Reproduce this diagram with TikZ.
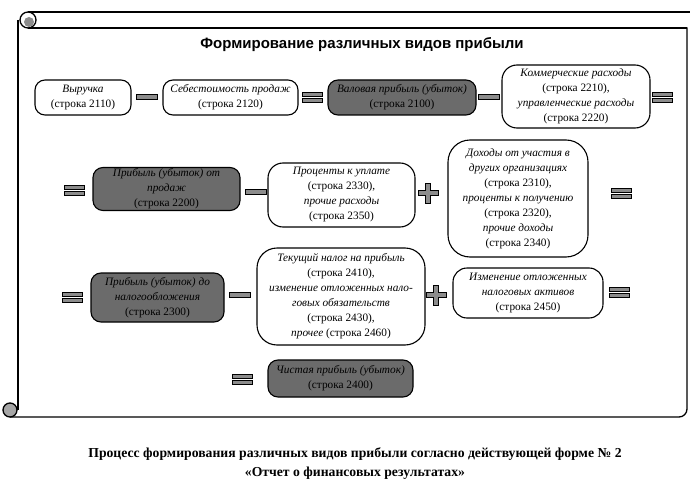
\documentclass[tikz,border=0pt]{standalone}
\usepackage{fontspec}
\setmainfont{Liberation Serif}
\newfontfamily\headfont{Liberation Sans}
\usetikzlibrary{calc}
\tikzset{
  item/.style   ={draw,line width=1.1pt,rounded corners=10pt,fill=white,align=center,
                  inner sep=1pt,font=\fontsize{11.3}{15}\selectfont},
  result/.style ={item,fill=black!58,draw=black},
  minusop/.style={draw,line width=.7pt,fill=black!45,minimum width=21pt,minimum height=5.5pt,inner sep=0pt},
  equalop/.style={minimum width=23pt,minimum height=13pt,inner sep=0pt,
    path picture={
      \draw[line width=.7pt,fill=black!45] ([shift={(-10pt,1pt)}]path picture bounding box.center) rectangle ++(20pt,4pt);
      \draw[line width=.7pt,fill=black!45] ([shift={(-10pt,-5pt)}]path picture bounding box.center) rectangle ++(20pt,4pt);}},
  plusop/.style ={minimum size=24pt,inner sep=0pt,
    path picture={
      \draw[line width=.7pt,fill=black!45,shift={(path picture bounding box.center)}]
        (-2.5pt,10pt) -- (2.5pt,10pt) -- (2.5pt,2.5pt) -- (10pt,2.5pt) -- (10pt,-2.5pt) -- (2.5pt,-2.5pt)
        -- (2.5pt,-10pt) -- (-2.5pt,-10pt) -- (-2.5pt,-2.5pt) -- (-10pt,-2.5pt) -- (-10pt,2.5pt) -- (-2.5pt,2.5pt) -- cycle;}},
  scroll/.style ={line width=1.3pt},
}

\begin{document}
\begin{tikzpicture}[x=1pt,y=-1pt]
  \useasboundingbox (0,0) rectangle (690,484);
  % scroll frame
  \draw[scroll] (28,12) -- (690,12);
  \draw[scroll] (28,28) -- (687,28);
  \draw[scroll,rounded corners=8pt] (687,27.4) -- (687,417) -- (10,417);
  \draw[scroll] (18,20) -- (18,410);
  \draw[scroll,fill=white] (28,20) circle[radius=8pt];
  \fill[black!45] (29,22) circle[radius=5pt];
  \draw[scroll,fill=black!35] (10,410) circle[radius=7pt];

  \node[font=\headfont\bfseries\fontsize{15}{18}\selectfont] (title) at (362,45) {Формирование различных видов прибыли};

  % row 1
  \node[item,minimum width=96pt,minimum height=35pt] (vyr) at (83,97.5) {\textit{Выручка}\\(строка 2110)};
  \node[minusop] (m1) at (147,97) {};
  \node[item,minimum width=135pt,minimum height=35pt] (seb) at (230.5,97.5) {\textit{Себестоимость продаж}\\(строка 2120)};
  \node[equalop] (e1) at (312,97) {};
  \node[result,minimum width=148pt,minimum height=35pt] (val) at (402,97.5) {\textit{Валовая прибыль (убыток)}\\(строка 2100)};
  \node[minusop] (m2) at (489,97) {};
  \node[item,rounded corners=15pt,minimum width=148pt,minimum height=63pt] (kom) at (576,96.5)
    {\textit{Коммерческие расходы}\\(строка 2210),\\\textit{управленческие расходы}\\(строка 2220)};
  \node[equalop] (e2) at (662,97) {};

  % row 2
  \node[equalop] (e3) at (74,190) {};
  \node[result,minimum width=147pt,minimum height=43pt] (prod) at (166.5,189)
    {\textit{Прибыль (убыток) от}\\\textit{продаж}\\(строка 2200)};
  \node[minusop] (m3) at (256,192) {};
  \node[item,rounded corners=15pt,minimum width=147pt,minimum height=64pt] (proc) at (341.5,195)
    {\textit{Проценты к уплате}\\(строка 2330),\\\textit{прочие расходы}\\(строка 2350)};
  \node[plusop] (p1) at (428,193) {};
  \node[item,rounded corners=22pt,minimum width=140pt,minimum height=117pt] (doh) at (518,198.5)
    {\textit{Доходы от участия в}\\\textit{других организациях}\\(строка 2310),\\\textit{проценты к получению}\\(строка 2320),\\\textit{прочие доходы}\\(строка 2340)};
  \node[equalop] (e4) at (621,193) {};

  % row 3
  \node[equalop] (e5) at (72,297) {};
  \node[result,minimum width=133pt,minimum height=49pt] (nal) at (157.5,297.5)
    {\textit{Прибыль (убыток) до}\\\textit{налогообложения}\\(строка 2300)};
  \node[minusop] (m4) at (239.5,295) {};
  \node[item,rounded corners=20pt,minimum width=168pt,minimum height=97pt] (tek) at (341,296.5)
    {\textit{Текущий налог на прибыль}\\(строка 2410),\\\textit{изменение отложенных нало-}\\\textit{говых обязательств}\\(строка 2430),\\\textit{прочее} (строка 2460)};
  \node[plusop] (p2) at (436,295) {};
  \node[item,rounded corners=14pt,minimum width=150pt,minimum height=50pt] (izm) at (528,293)
    {\textit{Изменение отложенных}\\\textit{налоговых активов}\\(строка 2450)};
  \node[equalop] (e6) at (619,292) {};

  % row 4
  \node[equalop] (e7) at (242,379) {};
  \node[result,minimum width=145pt,minimum height=37pt] (chist) at (340.5,378.5)
    {\textit{Чистая прибыль (убыток)}\\(строка 2400)};

  \node[font=\bfseries\fontsize{13.7}{19}\selectfont,align=center] (caption) at (355,464)
    {Процесс формирования различных видов прибыли согласно действующей форме № 2\\«Отчет о финансовых результатах»};
\end{tikzpicture}
\end{document}
